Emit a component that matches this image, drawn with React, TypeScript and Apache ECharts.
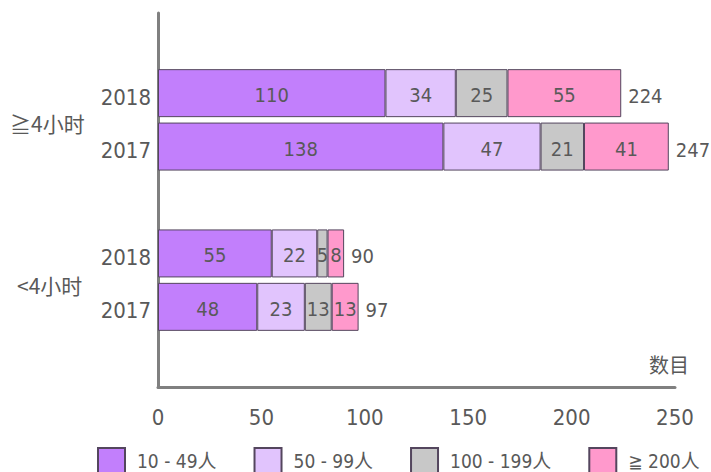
import React, { useEffect, useRef } from "react";
import * as echarts from "echarts";

const groups = ["≧4小时", "<4小时"];
const years = ["2018", "2017"];
const seriesNames = ["10 - 49人", "50 - 99人", "100 - 199人", "≧ 200人"];
// order: ≧4小时 2018, ≧4小时 2017, <4小时 2018, <4小时 2017
const v10to49 = [110, 138, 55, 48];
const v50to99 = [34, 47, 22, 23];
const v100to199 = [25, 21, 5, 13];
const v200plus = [55, 41, 8, 13];
const totals = [224, 247, 90, 97];
const xTicks = [0, 50, 100, 150, 200, 250];
const colors = ["#C27FFC", "#E1C4FD", "#C8C8C8", "#FF99CC"];

const FONT = "'DejaVu Sans Condensed', 'Noto Sans CJK SC', sans-serif";
const CJK = "'Noto Sans CJK SC', sans-serif";
const TXT = "#595959";

export default function App() {
  const ref = useRef<HTMLDivElement>(null);
  useEffect(() => {
    if (!ref.current) return;
    const chart = echarts.init(ref.current, undefined, { renderer: "svg" });
    const cats: string[] = [];
    const rowIndex: number[] = [];
    cats.push("pad0");
    rowIndex.push(-1);
    groups.forEach((g, gi) => {
      years.forEach((y, yi) => {
        cats.push(g + "|" + y);
        rowIndex.push(gi * years.length + yi);
      });
      cats.push("pad" + (gi + 1));
      rowIndex.push(-1);
    });
    const toCat = (arr: number[]) => rowIndex.map((r) => (r < 0 ? null : arr[r]));
    const seriesVals = [v10to49, v50to99, v100to199, v200plus];
    const barSeries = seriesNames.map((name, i) => ({
      name,
      type: "bar",
      stack: "s",
      barWidth: 48,
      data: toCat(seriesVals[i]),
      itemStyle: { color: colors[i], borderColor: "#54465e", borderWidth: 1 },
      label: {
        show: true,
        position: "inside",
        fontSize: 20,
        fontFamily: FONT,
        color: TXT,
        offset: [0, 2],
      },
    }));
    const totalSeries = {
      name: "total",
      type: "scatter",
      symbolSize: 0,
      itemStyle: { opacity: 1, color: "transparent" },
      data: rowIndex
        .map((r, ci) => (r < 0 ? null : [totals[r], ci]))
        .filter((d) => d !== null),
      label: {
        show: true,
        position: "right",
        distance: 7,
        fontSize: 20,
        fontFamily: FONT,
        color: TXT,
        opacity: 1,
        offset: [0, 3],
        formatter: (p: any) => String(p.value[0]),
      },
    };
    chart.setOption({
      animation: false,
      textStyle: { fontFamily: FONT },
      grid: { left: 158, right: 36, top: 13, bottom: 85 },
      xAxis: {
        type: "value",
        min: xTicks[0],
        max: xTicks[xTicks.length - 1],
        interval: 50,
        axisLine: { show: true, lineStyle: { color: "#808080", width: 3 } },
        axisTick: { show: false },
        splitLine: { show: false },
        axisLabel: { fontSize: 22, color: TXT, margin: 19, fontFamily: FONT },
      },
      yAxis: {
        type: "category",
        inverse: true,
        data: cats,
        axisLine: { show: true, lineStyle: { color: "#808080", width: 3 } },
        axisTick: { show: false },
        axisLabel: {
          color: TXT,
          margin: 7,
          interval: 0,
          formatter: (v: string) =>
            v.indexOf("|") >= 0 ? "{y|" + v.split("|")[1] + "}" : "",
          rich: {
            y: {
              fontSize: 22,
              fontFamily: FONT,
              color: TXT,
              padding: [8, 0, 0, 0],
            },
          },
        },
      },
      legend: {
        data: seriesNames,
        icon: "rect",
        left: 97,
        top: 447,
        padding: 0,
        itemWidth: 27,
        itemHeight: 26,
        itemGap: 37,
        textStyle: { fontSize: 19, color: TXT, fontFamily: FONT, padding: [0, 0, 0, 7] },
      },
      graphic: [
        {
          type: "text",
          left: 10,
          top: 112,
          style: { text: groups[0], fontSize: 21, fill: TXT, fontFamily: CJK },
        },
        {
          type: "text",
          left: 17,
          top: 274,
          style: { text: groups[1], fontSize: 21, fill: TXT, fontFamily: CJK },
        },
        {
          type: "text",
          left: 649,
          top: 354,
          style: { text: "数目", fontSize: 20, fill: TXT, fontFamily: CJK },
        },
      ],
      series: [...barSeries, totalSeries],
    });
    return () => chart.dispose();
  }, []);
  return (
    <div
      ref={ref}
      style={{ position: "absolute", left: 0, top: 0, width: 711, height: 472 }}
    />
  );
}
